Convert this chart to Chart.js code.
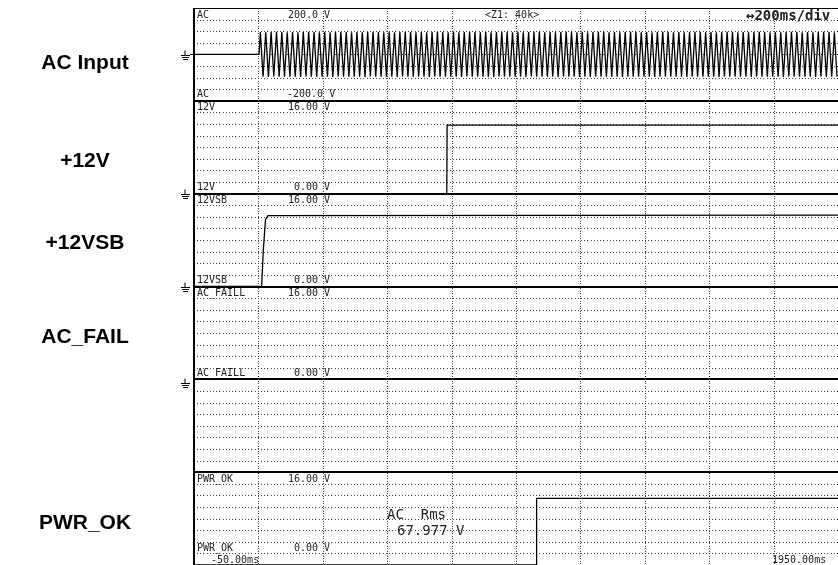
<!DOCTYPE html>
<html><head><meta charset="utf-8">
<script src="https://cdn.jsdelivr.net/npm/chart.js@4/dist/chart.umd.min.js"></script>
<style>
html,body{margin:0;padding:0;background:#fff;}
#wrap{position:relative;width:838px;height:565px;}
.lab{position:absolute;font:bold 21px "Liberation Sans",Arial,sans-serif;color:#000;text-align:center;width:170px;left:0;}
</style></head><body>
<div id="wrap"><canvas id="c" width="838" height="565"></canvas>
<div class="lab" style="top:50px">AC Input</div>
<div class="lab" style="top:148px">+12V</div>
<div class="lab" style="top:230px">+12VSB</div>
<div class="lab" style="top:324px">AC_FAIL</div>
<div class="lab" style="top:510px">PWR_OK</div>
</div>
<script>
// time axis (ms)
const timeTicks = [-50,150,350,550,750,950,1150,1350,1550,1750,1950];
// AC input: flat before start, then alternating half-cycle peaks (V)
const acStart = 152;
const acHalfPeriod = 8.33;
const acPeaks = [
96,-96,95,-97,96,-95,97,-96,96,-96,95,-96,
96,-96,95,-97,96,-95,97,-96,96,-96,95,-96,
96,-96,95,-97,96,-95,97,-96,96,-96,95,-96,
96,-96,95,-97,96,-95,97,-96,96,-96,95,-96,
96,-96,95,-97,96,-95,97,-96,96,-96,95,-96,
96,-96,95,-97,96,-95,97,-96,96,-96,95,-96,
96,-96,95,-97,96,-95,97,-96,96,-96,95,-96,
96,-96,95,-97,96,-95,97,-96,96,-96,95,-96,
96,-96,95,-97,96,-95,97,-96,96,-96,95,-96,
96,-96,95,-97,96,-95,97,-96,96,-96,95,-96,
96,-96,95,-97,96,-95,97,-96,96,-96,95,-96,
96,-96,95,-97,96,-95,97,-96,96,-96,95,-96,
96,-96,95,-97,96,-95,97,-96,96,-96,95,-96,
96,-96,95,-97,96,-95,97,-96,96,-96,95,-96,
96,-96,95,-97,96,-95,97,-96,96,-96,95,-96,
96,-96,95,-97,96,-95,97,-96,96,-96,95,-96,
96,-96,95,-97,96,-95,97,-96,96,-96,95,-96,
96,-96,95,-97,96,-95,97,-96,96,-96,95,-96];
const v12 = [{x:-50,y:0},{x:735,y:0},{x:736,y:11.8},{x:1950,y:11.8}];
const v12sb = [{x:-50,y:0},{x:160,y:0},{x:165,y:6},{x:172,y:11.5},{x:180,y:12.2},{x:1950,y:12.3}];
const acFail = [{x:-50,y:0},{x:1950,y:0}];
const pwrOk = [{x:-50,y:0},{x:1013,y:0},{x:1014,y:11.5},{x:1950,y:11.5}];

const acData=[{x:-50,y:0},{x:acStart,y:0}];
acPeaks.forEach((v,i)=>acData.push({x:acStart+acHalfPeriod*(i+0.5),y:v}));

const panels=[
 {id:'yAC',min:-200,max:200,top:['AC','200.0 V'],bot:['AC','-200.0 V']},
 {id:'y12',min:0,max:16,top:['12V','16.00 V'],bot:['12V','0.00 V']},
 {id:'ySB',min:0,max:16,top:['12VSB','16.00 V'],bot:['12VSB','0.00 V']},
 {id:'yFail',min:0,max:16,top:['AC_FAILL','16.00 V'],bot:['AC_FAILL','0.00 V']},
 {id:'yBlank',min:0,max:16,top:null,bot:null},
 {id:'yPwr',min:0,max:16,top:['PWR_OK','16.00 V'],bot:['PWR_OK','0.00 V']},
];
const scales={x:{type:'linear',min:-50,max:1950,display:true,
  afterBuildTicks:s=>{s.ticks=timeTicks.map(v=>({value:v}));},
  afterFit:s=>{s.height=0;},
  ticks:{display:false},grid:{display:false},border:{display:false}}};
panels.slice().reverse().forEach(p=>{scales[p.id]={type:'linear',position:'left',stack:'scope',stackWeight:1,
  min:p.min,max:p.max,ticks:{display:false,count:9},grid:{display:false},border:{display:false},
  afterFit:s=>{s.width=0;}};});

const mk=(d,ax)=>({data:d,yAxisID:ax,borderColor:'#000',borderWidth:1.3,pointRadius:0,fill:false,tension:0});

const scopePlugin={id:'scope',
 beforeDatasetsDraw(ch){
  const c=ch.ctx,a=ch.chartArea,xs=ch.scales.x;
  c.save();
  c.fillStyle='#444';
  panels.forEach(p=>{const s=ch.scales[p.id];
    for(let k=1;k<8;k++){const y=Math.round(s.top+(s.bottom-s.top)*k/8);
      for(let x=a.left+3;x<a.right;x+=3.2)c.fillRect(Math.round(x),y,1,1);}
  });
  timeTicks.forEach(t=>{const x=Math.round(xs.getPixelForValue(t));
    if(x<=a.left+1||x>=a.right-1)return;
    for(let y=a.top;y<a.bottom;y+=2.5)c.fillRect(x,Math.round(y),1,1);});
  c.fillStyle='#000';
  panels.forEach((p,i)=>{const s=ch.scales[p.id];if(i>0)c.fillRect(a.left,Math.round(s.top)-1,a.right-a.left,2);});
  c.fillRect(a.left-1,a.top,2,a.bottom-a.top);
  c.fillRect(a.left,a.top,a.right-a.left,1);
  c.restore();
 },
 afterDatasetsDraw(ch){
  const c=ch.ctx,a=ch.chartArea;
  c.save();c.fillStyle='#222';c.textBaseline='top';
  c.font='10px "DejaVu Sans Mono",monospace';
  panels.forEach((p,i)=>{const s=ch.scales[p.id];
    const lift=(i===panels.length-1)?22:11;
    if(p.top){c.fillText(p.top[0],a.left+3,s.top+2);c.fillText(p.top[1],a.left+94,s.top+2);}
    if(p.bot){c.fillText(p.bot[0],a.left+3,s.bottom-lift);c.fillText(p.bot[1],a.left+(p.bot[1][0]=='-'?93:100),s.bottom-lift);}
  });
  const sAC=ch.scales.yAC;
  c.fillText('<Z1: 40k>',a.left+291,sAC.top+2);
  c.font='bold 14px "DejaVu Sans Mono",monospace';
  c.fillText('\u2194200ms/div',a.left+552,sAC.top+1);
  c.font='10px "DejaVu Sans Mono",monospace';
  c.fillText('-50.00ms',a.left+17,a.bottom-10);
  c.fillText('1950.00ms',a.right-66,a.bottom-10);
  c.font='14px "DejaVu Sans Mono",monospace';
  const sp=ch.scales.yPwr;
  c.fillText('AC  Rms',a.left+193,sp.top+36);
  c.fillText('67.977 V',a.left+203,sp.top+52);
  c.strokeStyle='#000';c.lineWidth=1;
  const y0=Math.round(ch.scales.yAC.getPixelForValue(0))+0.5;
  [y0,ch.scales.ySB.top,ch.scales.yFail.top,ch.scales.yBlank.top+4].forEach(y=>{
    y=Math.round(y)+0.5;const x=a.left-9;
    c.beginPath();c.moveTo(x,y-5);c.lineTo(x,y);c.moveTo(a.left-13,y);c.lineTo(a.left-4,y);
    c.moveTo(a.left-12,y+2);c.lineTo(a.left-5,y+2);c.moveTo(a.left-11,y+4);c.lineTo(a.left-6,y+4);c.stroke();});
  c.beginPath();c.moveTo(a.left-4,y0);c.lineTo(a.left,y0);c.stroke();
  c.restore();
 }};

new Chart(document.getElementById('c'),{type:'line',
 data:{datasets:[mk(acData,'yAC'),mk(v12,'y12'),mk(v12sb,'ySB'),mk(acFail,'yFail'),mk(pwrOk,'yPwr')]},
 options:{responsive:false,animation:false,
  layout:{padding:{left:194,top:8,right:0,bottom:0}},
  plugins:{legend:{display:false},tooltip:{enabled:false}},
  scales},
 plugins:[scopePlugin]});
</script></body></html>
